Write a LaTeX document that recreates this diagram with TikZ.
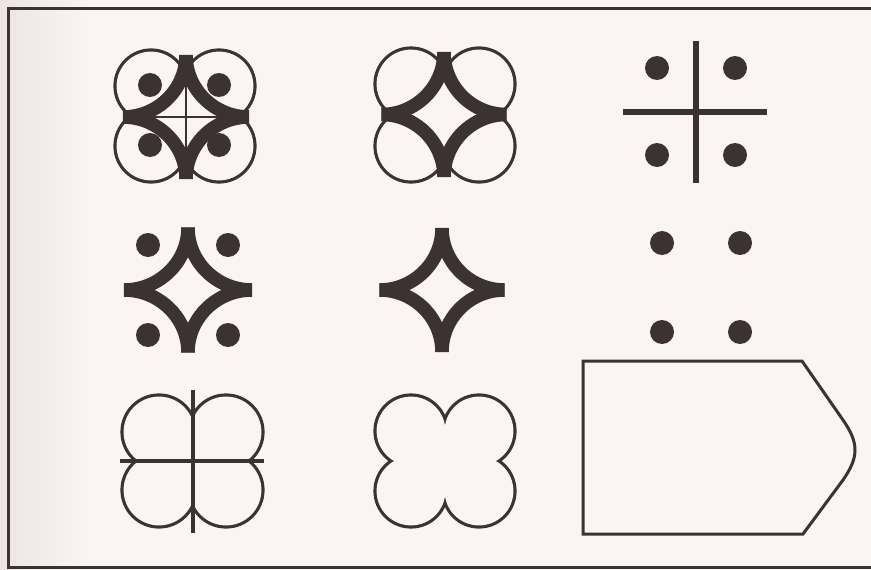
\documentclass[tikz,border=0pt]{standalone}
\definecolor{paper}{RGB}{250,244,242}
\definecolor{papershade}{RGB}{236,229,227}
\definecolor{ink}{RGB}{60,50,50}
\tikzset{
  outlinestroke/.style={draw=ink, line width=6.4pt},
  thinline/.style={draw=ink, line width=2pt},
  crossline/.style={draw=ink, line width=3.6pt},
  boldcross/.style={draw=ink, line width=6pt},
  band/.style={draw=ink, line width=13.5pt, line cap=butt},
  frameline/.style={draw=ink, line width=3pt},
}
% star band: cx cy hx hy
\newcommand\mystar[4]{%
  \draw[band] (#1,{#2-#4}) .. controls (#1,{#2-#4+0.5523*#4}) and ({#1+#3-0.5523*#3},#2) .. ({#1+#3},#2);
  \draw[band] ({#1+#3},#2) .. controls ({#1+#3-0.5523*#3},#2) and (#1,{#2+#4-0.5523*#4}) .. (#1,{#2+#4});
  \draw[band] (#1,{#2+#4}) .. controls (#1,{#2+#4-0.5523*#4}) and ({#1-#3+0.5523*#3},#2) .. ({#1-#3},#2);
  \draw[band] ({#1-#3},#2) .. controls ({#1-#3+0.5523*#3},#2) and (#1,{#2-#4+0.5523*#4}) .. (#1,{#2-#4});
}
% outline of the union of four circles: cx cy a b r
\newcommand\mycircles[5]{%
  \draw[outlinestroke] ({#1-#3},{#2-#4}) circle[radius={#5-1.6}]
                       ({#1+#3},{#2-#4}) circle[radius={#5-1.6}]
                       ({#1-#3},{#2+#4}) circle[radius={#5-1.6}]
                       ({#1+#3},{#2+#4}) circle[radius={#5-1.6}];
  \fill[paper] ({#1-#3},{#2-#4}) circle[radius={#5-1.6}];
  \fill[paper] ({#1+#3},{#2-#4}) circle[radius={#5-1.6}];
  \fill[paper] ({#1-#3},{#2+#4}) circle[radius={#5-1.6}];
  \fill[paper] ({#1+#3},{#2+#4}) circle[radius={#5-1.6}];
  \fill[paper] ({#1-#3},{#2-#4}) rectangle ({#1+#3},{#2+#4});
}
% four dots: x1 x2 y1 y2
\newcommand\mydots[4]{%
  \fill[ink] (#1,#3) circle[radius=12pt];
  \fill[ink] (#2,#3) circle[radius=12pt];
  \fill[ink] (#1,#4) circle[radius=12pt];
  \fill[ink] (#2,#4) circle[radius=12pt];
}
\begin{document}
\begin{tikzpicture}[x=1pt,y=-1pt]
\useasboundingbox (0,0) rectangle (871,570);
\clip (0,0) rectangle (871,570);
\fill[paper] (0,0) rectangle (871,570);
\shade[left color=papershade, right color=paper] (0,0) rectangle (90,570);
\draw[frameline] (8.5,8.5) rectangle (885,567);

% row 1, col 1
\mycircles{185}{116}{34}{30}{36}
\draw[thinline] (124,117) -- (248,117);
\draw[thinline] (186,56) -- (186,178);
\mystar{186}{117}{63}{62}
\mydots{150}{219}{85}{145}

% row 1, col 2
\mycircles{445}{115}{34}{31}{36}
\mystar{444}{114.5}{62.5}{62.5}

% row 1, col 3
\draw[boldcross] (696,41) -- (696,183);
\draw[boldcross] (623,112) -- (767,112);
\mydots{657}{735}{68}{155}

% row 2, col 1
\mystar{188}{290}{64}{62.5}
\mydots{148}{228}{245}{335}

% row 2, col 2
\mystar{442}{290}{62.5}{62}

% row 2, col 3
\mydots{662}{740}{243}{332}

% row 3, col 1
\mycircles{192.5}{461}{33.5}{29}{37}
\draw[crossline] (193,390) -- (193,533);
\draw[crossline] (120,461) -- (264,461);

% row 3, col 2
\mycircles{445}{461}{34}{30}{36}

% row 3, col 3
\draw[frameline, line join=miter] (583,361) -- (802,361) -- (843,420)
  .. controls (859,443) and (859,457) .. (843,480) -- (803,534) -- (583,534) -- cycle;
\end{tikzpicture}
\end{document}
